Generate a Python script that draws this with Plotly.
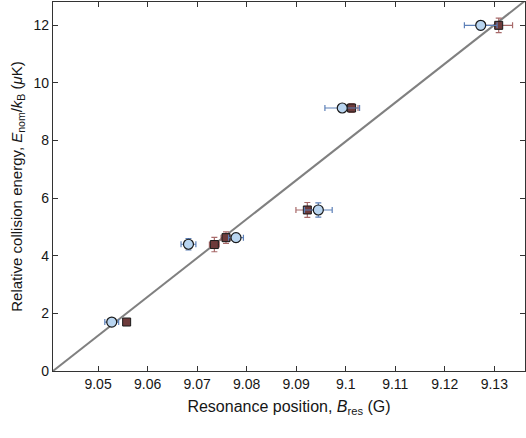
import plotly.graph_objects as go

# Circles (light blue)
circ_B = [9.05276, 9.06825, 9.07785, 9.09447, 9.0993, 9.12726]
circ_E = [1.70, 4.40, 4.63, 5.59, 9.13, 12.0]
circ_Berr = [0.0014, 0.0015, 0.0015, 0.0028, 0.0035, 0.0033]
circ_Eerr = [0.08, 0.2, 0.15, 0.25, 0.12, 0.15]

# Squares (dark brown)
sq_B = [9.05577, 9.07348, 9.07583, 9.09225, 9.10119, 9.13089]
sq_E = [1.70, 4.39, 4.63, 5.59, 9.13, 12.0]
sq_Berr = [0.0005, 0.001, 0.001, 0.0023, 0.0013, 0.0028]
sq_Eerr = [0.08, 0.25, 0.2, 0.26, 0.15, 0.25]

# Linear fit line
fit_B = [9.0409, 9.1362]
fit_E = [0.0, 12.85]

x_ticks = [9.05, 9.06, 9.07, 9.08, 9.09, 9.10, 9.11, 9.12, 9.13]
x_ticklabels = ["9.05", "9.06", "9.07", "9.08", "9.09", "9.1", "9.11", "9.12", "9.13"]
y_ticks = [0, 2, 4, 6, 8, 10, 12]

fig = go.Figure()
fig.add_trace(go.Scatter(x=fit_B, y=fit_E, mode="lines",
                         line=dict(color="#808080", width=2), showlegend=False))
fig.add_trace(go.Scatter(
    x=sq_B, y=sq_E, mode="markers", showlegend=False,
    marker=dict(symbol="square", size=8, color="#6e3b3b", line=dict(color="#1a1a1a", width=1)),
    error_x=dict(type="data", array=sq_Berr, color="#a86a6a", thickness=1.2, width=3),
    error_y=dict(type="data", array=sq_Eerr, color="#a86a6a", thickness=1.2, width=3),
))
fig.add_trace(go.Scatter(
    x=circ_B, y=circ_E, mode="markers", showlegend=False,
    marker=dict(symbol="circle", size=10, color="#b9d5f0", line=dict(color="#1a1a1a", width=1.2)),
    error_x=dict(type="data", array=circ_Berr, color="#5d80b8", thickness=1.2, width=3),
    error_y=dict(type="data", array=circ_Eerr, color="#5d80b8", thickness=1.2, width=3),
))

font_family = "Liberation Sans, Arial, Helvetica, sans-serif"
fig.update_layout(
    width=526, height=438,
    margin=dict(l=53, r=1, t=2, b=67),
    paper_bgcolor="white", plot_bgcolor="white",
    font=dict(family=font_family, color="#161616"),
    xaxis=dict(range=[fit_B[0], fit_B[1]], tickvals=x_ticks, ticktext=x_ticklabels,
               ticks="inside", ticklen=5, tickcolor="#333333", mirror="ticks",
               showline=True, linecolor="#333333", linewidth=1.2, showgrid=False,
               zeroline=False, tickfont=dict(size=14),
               title=dict(text="Resonance position, <i>B</i><sub>res</sub> (G)",
                          font=dict(size=16), standoff=9)),
    yaxis=dict(range=[0, 12.81], tickvals=y_ticks,
               ticks="inside", ticklen=5, tickcolor="#333333", mirror="ticks",
               showline=True, linecolor="#333333", linewidth=1.2, showgrid=False,
               zeroline=False, tickfont=dict(size=14),
               title=dict(text="Relative collision energy, <i>E</i><sub>nom</sub>/<i>k</i><sub>B</sub> (<i>μ</i>K)",
                          font=dict(size=15), standoff=7)),
)
fig.write_html("out.html")
